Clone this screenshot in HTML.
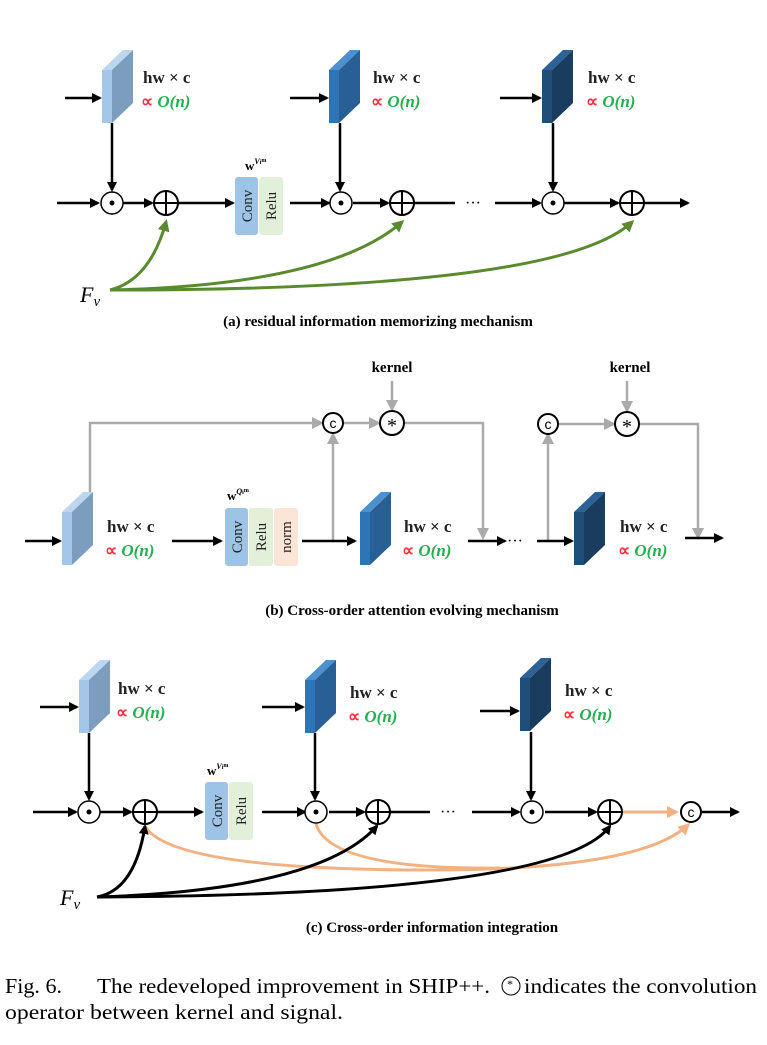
<!DOCTYPE html>
<html><head><style>body{margin:0;background:#fff}svg{display:block}</style></head><body>
<svg width="767" height="1045" viewBox="0 0 767 1045" xmlns="http://www.w3.org/2000/svg" font-family="'Liberation Serif', serif">
<defs>
<marker id="ak" markerWidth="10" markerHeight="10" refX="8" refY="5" orient="auto" markerUnits="userSpaceOnUse"><path d="M0,0 L10,5 L0,10 z" fill="#000"/></marker>
<marker id="ag" markerWidth="12" markerHeight="12" refX="9" refY="6" orient="auto" markerUnits="userSpaceOnUse"><path d="M0,0 L12,6 L0,12 z" fill="#aaa"/></marker>
<marker id="agr" markerWidth="12" markerHeight="12" refX="9" refY="6" orient="auto" markerUnits="userSpaceOnUse"><path d="M0,0 L12,6 L0,12 z" fill="#5a8a2e"/></marker>
<marker id="ao" markerWidth="12" markerHeight="12" refX="9" refY="6" orient="auto" markerUnits="userSpaceOnUse"><path d="M0,0 L12,6 L0,12 z" fill="#f3b080"/></marker>
<g id="bl"><polygon points="0,20 21,0 31,0 10,20" fill="#bcd6ef"/><rect x="0" y="20" width="10" height="53" fill="#a4c6e8"/><polygon points="10,20 31,0 31,53 10,73" fill="#7c9dbd"/></g>
<g id="bm"><polygon points="0,20 21,0 31,0 10,20" fill="#4d8fcf"/><rect x="0" y="20" width="10" height="53" fill="#2e75b6"/><polygon points="10,20 31,0 31,53 10,73" fill="#285f94"/></g>
<g id="bd"><polygon points="0,20 21,0 31,0 10,20" fill="#2d6296"/><rect x="0" y="20" width="10" height="53" fill="#1f4e79"/><polygon points="10,20 31,0 31,53 10,73" fill="#1a3d5f"/></g>
<g id="dot"><circle r="11" fill="#fff" stroke="#000" stroke-width="1.5"/><circle r="2.5" fill="#000"/></g>
<g id="plus"><circle r="12" fill="#fff" stroke="#000" stroke-width="2"/><path d="M-12,0H12M0,-12V12" stroke="#000" stroke-width="2"/></g>
<g id="cc"><circle r="10" fill="#fff" stroke="#000" stroke-width="2"/><text y="5" text-anchor="middle" font-size="14" font-family="'Liberation Sans', sans-serif">c</text></g>
<g id="st"><circle r="12" fill="#fff" stroke="#000" stroke-width="2"/><text y="9" text-anchor="middle" font-size="20">*</text></g>
<g id="cr"><rect x="0" y="0" width="23" height="58" rx="3" fill="#9dc3e6"/><rect x="24" y="0" width="24" height="58" rx="3" fill="#e2efd9"/>
<text transform="translate(17,29) rotate(-90)" text-anchor="middle" font-size="15" fill="#222">Conv</text><text transform="translate(41,29) rotate(-90)" text-anchor="middle" font-size="15" fill="#222">Relu</text></g>
<g id="lab" font-weight="bold" font-size="17"><text x="0" y="0" fill="#222">hw × c</text><text x="-2" y="24" fill="#ff3344">∝ <tspan fill="#22b050" font-style="italic">O(n)</tspan></text></g>
</defs>
<g stroke="#000" stroke-width="2.5" fill="none">
<path d="M65,98H100" marker-end="url(#ak)"/><path d="M112,123V190" marker-end="url(#ak)"/>
<path d="M57,203H98" marker-end="url(#ak)"/><path d="M122,203H152" marker-end="url(#ak)"/><path d="M178,203H233" marker-end="url(#ak)"/>
<path d="M290,98H327" marker-end="url(#ak)"/><path d="M340,123V190" marker-end="url(#ak)"/>
<path d="M290,203H329" marker-end="url(#ak)"/><path d="M353,203H388" marker-end="url(#ak)"/><path d="M414,203H455"/>
<path d="M500,98H540" marker-end="url(#ak)"/><path d="M553,123V190" marker-end="url(#ak)"/>
<path d="M495,203H540" marker-end="url(#ak)"/><path d="M564,203H618" marker-end="url(#ak)"/><path d="M644,203H688" marker-end="url(#ak)"/>
</g>
<g stroke="#5a8a2e" stroke-width="3" fill="none">
<path d="M110,290 Q150,280 166,222" marker-end="url(#agr)"/>
<path d="M110,290 Q330,285 402,222" marker-end="url(#agr)"/>
<path d="M110,290 Q560,290 632,222" marker-end="url(#agr)"/>
</g>
<use href="#bl" x="102" y="50"/><use href="#bm" x="329" y="50"/><use href="#bd" x="542" y="50"/>
<use href="#lab" x="143" y="83"/><use href="#lab" x="373" y="83"/><use href="#lab" x="588" y="83"/>
<use href="#dot" x="112" y="203"/><use href="#plus" x="166" y="203"/><use href="#dot" x="341" y="203"/><use href="#plus" x="402" y="203"/><use href="#dot" x="553" y="203"/><use href="#plus" x="632" y="203"/>
<text x="465" y="208" font-size="16">···</text>
<use href="#cr" x="235" y="177"/><text x="245" y="170" font-size="13" font-weight="bold">w<tspan font-size="8" dy="-6" font-style="italic">V</tspan><tspan font-size="6">i</tspan><tspan font-size="6" dy="-2">m</tspan></text>
<text x="80" y="302" font-size="22" font-style="italic">F<tspan font-size="15" dy="4">v</tspan></text>
<text x="378" y="326" text-anchor="middle" font-size="15" font-weight="bold">(a) residual information memorizing mechanism</text>

<g stroke="#aaa" stroke-width="2.5" fill="none">
<path d="M90,495V423H321" marker-end="url(#ag)"/><path d="M333,541V435" marker-end="url(#ag)"/>
<path d="M343,423H378" marker-end="url(#ag)"/><path d="M392,381V409" marker-end="url(#ag)"/>
<path d="M404,423H483V537" marker-end="url(#ag)"/>
<path d="M548,541V435" marker-end="url(#ag)"/><path d="M558,424H613" marker-end="url(#ag)"/><path d="M627,381V410" marker-end="url(#ag)"/>
<path d="M639,424H698V537" marker-end="url(#ag)"/>
</g>
<g stroke="#000" stroke-width="2.5" fill="none">
<path d="M25,541H60" marker-end="url(#ak)"/><path d="M172,541H221" marker-end="url(#ak)"/><path d="M302,541H355" marker-end="url(#ak)"/>
<path d="M468,541H505" marker-end="url(#ak)"/><path d="M537,541H572" marker-end="url(#ak)"/><path d="M685,538H722" marker-end="url(#ak)"/>
</g>
<text x="507" y="546" font-size="16">···</text>
<use href="#bl" x="62" y="492"/><use href="#bm" x="360" y="492"/><use href="#bd" x="574" y="492"/>
<use href="#lab" x="107" y="532"/><use href="#lab" x="404" y="532"/><use href="#lab" x="620" y="532"/>
<use href="#cc" x="333" y="423"/><use href="#st" x="392" y="423"/><use href="#cc" x="548" y="424"/><use href="#st" x="627" y="424"/>
<text x="392" y="372" text-anchor="middle" font-size="15" font-weight="bold">kernel</text><text x="630" y="372" text-anchor="middle" font-size="15" font-weight="bold">kernel</text>
<g transform="translate(225,508)"><use href="#cr"/><rect x="49" y="0" width="24" height="58" rx="3" fill="#fbe5d6"/><text transform="translate(66,29) rotate(-90)" text-anchor="middle" font-size="15" fill="#222">norm</text></g>
<text x="227" y="500" font-size="13" font-weight="bold">w<tspan font-size="8" dy="-6" font-style="italic">Q</tspan><tspan font-size="6">i</tspan><tspan font-size="6" dy="-2">m</tspan></text>
<text x="412" y="615" text-anchor="middle" font-size="15" font-weight="bold">(b) Cross-order attention evolving mechanism</text>

<g stroke="#000" stroke-width="2.5" fill="none">
<path d="M40,707H77" marker-end="url(#ak)"/><path d="M89,733V799" marker-end="url(#ak)"/>
<path d="M33,812H76" marker-end="url(#ak)"/><path d="M100,812H131" marker-end="url(#ak)"/><path d="M157,812H202" marker-end="url(#ak)"/>
<path d="M262,707H303" marker-end="url(#ak)"/><path d="M315,733V799" marker-end="url(#ak)"/>
<path d="M262,812H305" marker-end="url(#ak)"/><path d="M329,812H364" marker-end="url(#ak)"/><path d="M390,812H430"/>
<path d="M480,711H518" marker-end="url(#ak)"/><path d="M531,732V799" marker-end="url(#ak)"/>
<path d="M472,812H519" marker-end="url(#ak)"/><path d="M545,812H596" marker-end="url(#ak)"/><path d="M702,812H738" marker-end="url(#ak)"/>
</g>
<g stroke="#f3b080" stroke-width="3" fill="none">
<path d="M620,812H676" marker-end="url(#ao)"/>
<path d="M145,826 Q170,870 430,870 Q640,870 688,825" marker-end="url(#ao)"/>
<path d="M316,824 Q330,870 500,868"/>
</g>
<g stroke="#000" stroke-width="3" fill="none">
<path d="M97,897 Q135,890 145,826" marker-end="url(#ak)"/>
<path d="M97,897 Q320,890 377,826" marker-end="url(#ak)"/>
<path d="M97,897 Q560,895 610,826" marker-end="url(#ak)"/>
</g>
<use href="#bl" x="79" y="660"/><use href="#bm" x="305" y="660"/><use href="#bd" x="520" y="658"/>
<use href="#lab" x="118" y="694"/><use href="#lab" x="350" y="698"/><use href="#lab" x="565" y="696"/>
<use href="#dot" x="89" y="812"/><use href="#plus" x="145" y="812"/><use href="#dot" x="316" y="812"/><use href="#plus" x="378" y="812"/><use href="#dot" x="532" y="812"/><use href="#plus" x="610" y="812"/><use href="#cc" x="691" y="812"/>
<text x="440" y="817" font-size="16">···</text>
<use href="#cr" x="205" y="782"/><text x="207" y="775" font-size="13" font-weight="bold">w<tspan font-size="8" dy="-6" font-style="italic">V</tspan><tspan font-size="6">i</tspan><tspan font-size="6" dy="-2">m</tspan></text>
<text x="60" y="905" font-size="22" font-style="italic">F<tspan font-size="15" dy="4">v</tspan></text>
<text x="432" y="932" text-anchor="middle" font-size="15" font-weight="bold">(c) Cross-order information integration</text>

<g font-family="'Liberation Serif', serif" font-size="21">
<text x="5" y="993" textLength="57" lengthAdjust="spacingAndGlyphs">Fig. 6.</text>
<text x="97" y="993" textLength="393" lengthAdjust="spacingAndGlyphs">The redeveloped improvement in SHIP++.</text>
<text x="524" y="993" textLength="233" lengthAdjust="spacingAndGlyphs">indicates the convolution</text>
<text x="5" y="1019" textLength="338" lengthAdjust="spacingAndGlyphs">operator between kernel and signal.</text>
</g>
<circle cx="511" cy="986" r="9" fill="none" stroke="#000" stroke-width="1"/><text x="507" y="988" font-size="12">*</text>
</svg>
</body></html>
